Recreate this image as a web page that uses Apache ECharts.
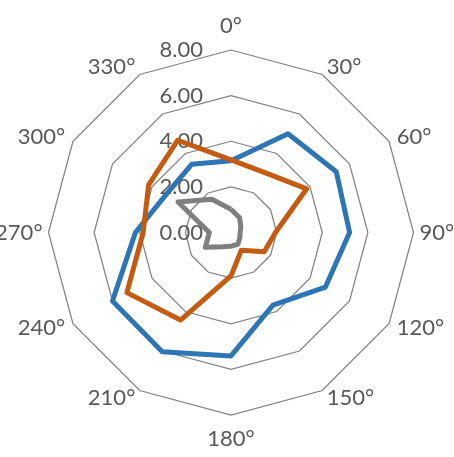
<!DOCTYPE html>
<html>
<head>
<meta charset="utf-8">
<script src="https://cdn.jsdelivr.net/npm/echarts@6/dist/echarts.min.js"></script>
<style>
html,body{margin:0;padding:0;background:#fff;}
#chart{width:454px;height:457px;}
</style>
</head>
<body>
<div id="chart"></div>
<script>
// Categories (clockwise from top)
const categories = ['0°','30°','60°','90°','120°','150°','180°','210°','240°','270°','300°','330°'];
// Series values, in category order
const seriesBlue   = [3.15, 5.00, 5.33, 5.20, 4.78, 3.68, 5.41, 6.03, 6.00, 4.19, 3.30, 3.45];
const seriesOrange = [3.18, 3.02, 3.83, 1.95, 1.68, 0.90, 1.90, 4.43, 5.27, 3.85, 4.17, 4.67];
const seriesGray   = [1.02, 0.75, 0.50, 0.40, 0.45, 0.60, 0.60, 0.72, 1.30, 0.95, 2.68, 1.68];
const axisMin = 0, axisMax = 8, axisSplits = 4;

// ECharts radar runs counter-clockwise, so reorder to display clockwise
const order = categories.map((_, i) => (categories.length - i) % categories.length);
const reorder = arr => order.map(i => arr[i]);

function gapFor(idx) {
  if (idx === 0 || idx === 6) return 13;
  if (idx === 3 || idx === 9) return 6;
  return 9;
}

const indicator = order.map((idx, k) => {
  const ind = { name: categories[idx], min: axisMin, max: axisMax, nameGap: gapFor(idx) };
  if (k === 0) ind.axisLabel = { show: true };
  return ind;
});

const chart = echarts.init(document.getElementById('chart'), null, { renderer: 'canvas' });
chart.setOption({
  animation: false,
  backgroundColor: '#ffffff',
  radar: {
    center: [231, 232.5],
    radius: 182.5,
    startAngle: 90,
    splitNumber: axisSplits,
    shape: 'polygon',
    indicator: indicator,
    axisName: { color: '#595959', fontFamily: 'Lato', fontSize: 22 },
    nameGap: 9,
    axisLine: { show: false },
    axisTick: { show: false },
    splitArea: { show: false },
    splitLine: { lineStyle: { color: '#838383', width: 1.25 } },
    axisLabel: {
      show: false,
      color: '#595959',
      fontFamily: 'Lato',
      fontSize: 22,
      margin: 28,
      showMinLabel: true,
      showMaxLabel: true,
      formatter: v => Number(v).toFixed(2)
    }
  },
  series: [{
    type: 'radar',
    symbol: 'none',
    data: [
      { value: reorder(seriesBlue), lineStyle: { color: '#2E75B6', width: 5 }, itemStyle: { color: '#2E75B6' } },
      { value: reorder(seriesOrange), lineStyle: { color: '#C55A11', width: 5 }, itemStyle: { color: '#C55A11' } },
      { value: reorder(seriesGray), lineStyle: { color: '#7F7F7F', width: 5 }, itemStyle: { color: '#7F7F7F' } }
    ]
  }]
});
</script>
</body>
</html>
